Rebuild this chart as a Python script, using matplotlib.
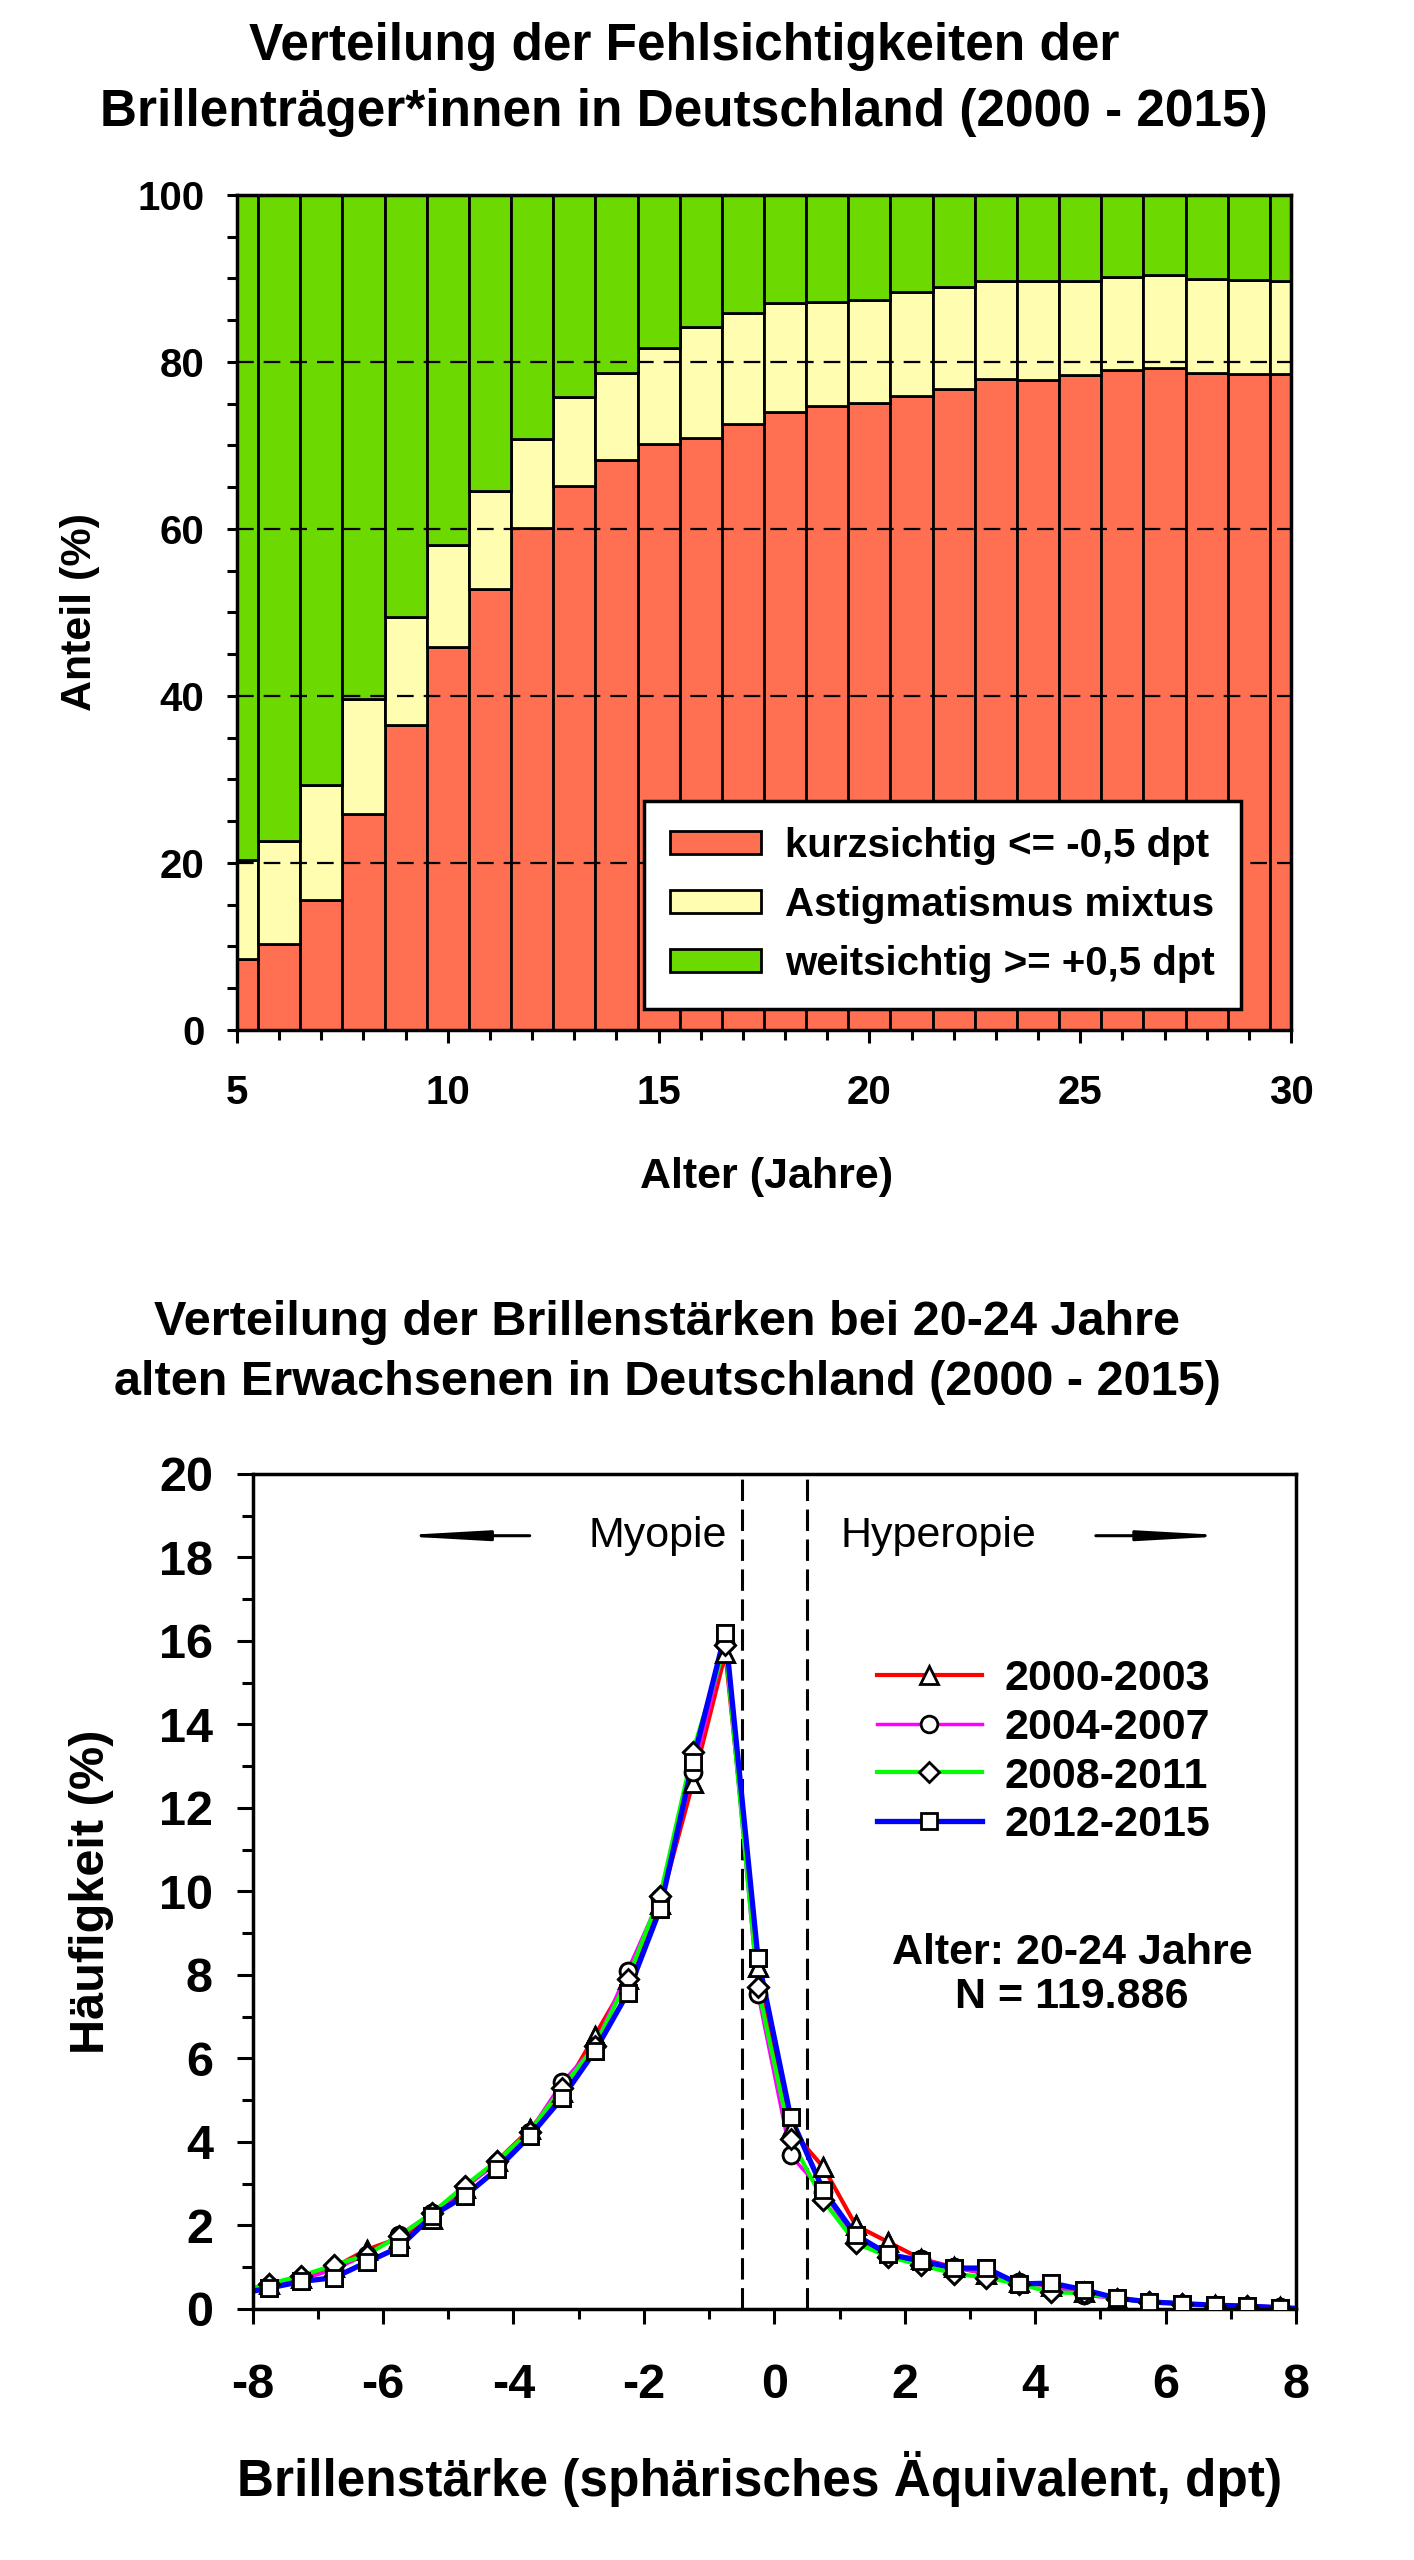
"""
Fehlsichtigkeiten der Brillenträger*innen in Deutschland (2000 - 2015)
Oben: gestapelte Anteile nach Alter, unten: Verteilung der Brillenstärken.
"""

import matplotlib
matplotlib.use("Agg")
import matplotlib.pyplot as plt
import numpy as np
from matplotlib.ticker import MultipleLocator

plt.rcParams.update({
    "font.family": ["Liberation Sans", "DejaVu Sans"],
    "font.weight": "bold",
    "axes.linewidth": 2.5,
    "axes.unicode_minus": False,
})

# ---------------------------------------------------------------------------
# Daten oben: Anteile (%) je Alter
# ---------------------------------------------------------------------------
alter = np.arange(5, 31)
kurzsichtig = [8.5, 10.3, 15.5, 25.8, 36.5, 45.8, 52.8, 60.1, 65.1, 68.2, 70.2,
               70.9, 72.5, 74.0, 74.7, 75.1, 75.9, 76.8, 78.0, 77.8, 78.4, 79.0,
               79.3, 78.7, 78.6, 78.5]
astig_mixtus = [11.8, 12.3, 13.8, 13.8, 12.9, 12.3, 11.7, 10.7, 10.7, 10.5, 11.5,
                13.3, 13.4, 13.0, 12.5, 12.3, 12.5, 12.2, 11.7, 11.9, 11.3, 11.1,
                11.1, 11.2, 11.2, 11.2]
weitsichtig = [79.7, 77.4, 70.7, 60.4, 50.6, 41.9, 35.5, 29.2, 24.2, 21.3, 18.3,
               15.8, 14.1, 13.0, 12.8, 12.6, 11.6, 11.0, 10.3, 10.3, 10.3, 9.9,
               9.6, 10.1, 10.2, 10.3]
kat_labels = ["kurzsichtig <= -0,5 dpt", "Astigmatismus mixtus",
              "weitsichtig >= +0,5 dpt"]
kat_farben = ["#FF6F52", "#FFFDAF", "#6CD900"]

# ---------------------------------------------------------------------------
# Daten unten: Häufigkeit (%) je Brillenstärke (Klassenmitten, dpt)
# ---------------------------------------------------------------------------
dpt = np.arange(-8.25, 8.26, 0.5)
h_2000 = [0.35, 0.6, 0.75, 1.0, 1.42, 1.7, 2.15, 2.9, 3.55, 4.3, 5.2, 6.55,
          7.9, 9.7, 12.6, 15.7, 8.2, 4.3, 3.4, 2.0, 1.6, 1.2, 1.0, 0.85, 0.65,
          0.55, 0.4, 0.25, 0.17, 0.13, 0.09, 0.07, 0.04, 0.0]
h_2004 = [0.38, 0.55, 0.7, 0.95, 1.3, 1.77, 2.3, 2.9, 3.5, 4.25, 5.43, 6.3,
          8.1, 9.85, 12.85, 15.95, 7.55, 3.68, 2.8, 1.65, 1.3, 1.2, 1.0, 0.85,
          0.65, 0.55, 0.33, 0.25, 0.17, 0.13, 0.09, 0.07, 0.04, 0.0]
h_2008 = [0.4, 0.6, 0.8, 1.05, 1.3, 1.75, 2.3, 2.95, 3.55, 4.25, 5.3, 6.3,
          7.9, 9.9, 13.35, 15.9, 7.7, 4.07, 2.6, 1.58, 1.25, 1.05, 0.85, 0.75,
          0.6, 0.4, 0.38, 0.25, 0.17, 0.13, 0.08, 0.06, 0.03, 0.0]
h_2012 = [0.35, 0.5, 0.66, 0.75, 1.12, 1.48, 2.23, 2.7, 3.35, 4.14, 5.06, 6.18,
          7.56, 9.58, 13.1, 16.2, 8.4, 4.6, 2.85, 1.77, 1.31, 1.15, 0.98, 0.98,
          0.6, 0.62, 0.46, 0.26, 0.17, 0.13, 0.09, 0.07, 0.03, 0.0]
zeitraeume = ["2000-2003", "2004-2007", "2008-2011", "2012-2015"]
linien_farben = ["#FF0000", "#FF00FF", "#00FF00", "#0000FF"]
linien_breiten = [3.0, 2.5, 3.0, 3.8]
marker = ["^", "o", "D", "s"]
marker_groesse = [13, 12, 10, 11]

fig = plt.figure(figsize=(14.14, 25.6), dpi=100)
fig.patch.set_facecolor("white")

# ---------------------------------------------------------------------------
# Oberes Diagramm
# ---------------------------------------------------------------------------
ax1 = fig.add_axes([0.1676, 0.5977, 0.7454, 0.3262])
unten = np.zeros(len(alter))
handles = []
for werte, farbe, lab in zip([kurzsichtig, astig_mixtus, weitsichtig],
                             kat_farben, kat_labels):
    b = ax1.bar(alter, werte, width=1.0, bottom=unten, color=farbe,
                edgecolor="black", linewidth=2.0, label=lab, zorder=1)
    handles.append(b)
    unten = unten + np.asarray(werte)

for y in (20, 40, 60, 80):
    ax1.axhline(y, color="black", linewidth=1.6, linestyle=(0, (7.5, 4.5)),
                zorder=2)

ax1.set_xlim(5, 30)
ax1.set_ylim(0, 100)
ax1.xaxis.set_major_locator(MultipleLocator(5))
ax1.xaxis.set_minor_locator(MultipleLocator(1))
ax1.yaxis.set_major_locator(MultipleLocator(20))
ax1.yaxis.set_minor_locator(MultipleLocator(5))
ax1.tick_params(axis="x", which="major", length=9.5, width=2.2, pad=22,
                labelsize=29)
ax1.tick_params(axis="x", which="minor", length=7, width=2.2)
ax1.tick_params(axis="y", which="both", length=7.5, width=2.2, pad=16,
                labelsize=29)
for lbl in ax1.get_xticklabels() + ax1.get_yticklabels():
    lbl.set_fontweight("bold")

ax1.set_ylabel("Anteil (%)", fontsize=31, fontweight="bold", va="center")
ax1.yaxis.set_label_coords(-0.149, 0.5)
ax1.set_xlabel("Alter (Jahre)", fontsize=31, fontweight="bold", va="center")
ax1.xaxis.set_label_coords(0.502, -0.176)

leg1 = ax1.legend(handles=handles, loc="lower left",
                  bbox_to_anchor=(0.386, 0.025), fontsize=29,
                  handlelength=2.26, handleheight=0.5, handletextpad=0.6,
                  labelspacing=0.52, borderpad=0.65, borderaxespad=0,
                  fancybox=False, framealpha=1, edgecolor="black")
leg1.get_frame().set_linewidth(2.5)
leg1.set_zorder(5)
for t in leg1.get_texts():
    t.set_fontweight("bold")

fig.text(684, 2560 - 60, "Verteilung der Fehlsichtigkeiten der",
         transform=None, fontsize=37, fontweight="bold", ha="center",
         va="baseline")
fig.text(684, 2560 - 126,
         "Brillenträger*innen in Deutschland (2000 - 2015)",
         transform=None, fontsize=37, fontweight="bold", ha="center",
         va="baseline")

# ---------------------------------------------------------------------------
# Unteres Diagramm
# ---------------------------------------------------------------------------
ax2 = fig.add_axes([0.1786, 0.09805, 0.738, 0.3262])
serien = [h_2000, h_2004, h_2008, h_2012]
for werte, farbe, lw, m, ms, lab in zip(serien, linien_farben, linien_breiten,
                                        marker, marker_groesse, zeitraeume):
    ax2.plot(dpt, werte, color=farbe, linewidth=lw, marker=m, markersize=ms,
             markerfacecolor="white", markeredgecolor="black",
             markeredgewidth=2.0, label=lab, zorder=2)
for werte, m, ms in zip(serien, marker, marker_groesse):
    ax2.plot(dpt, werte, linestyle="none", marker=m, markersize=ms,
             markerfacecolor="white", markeredgecolor="black",
             markeredgewidth=2.0, zorder=3)

for xv in (-0.5, 0.5):
    ax2.axvline(xv, color="black", linewidth=2.2, linestyle=(0, (7, 2.8)),
                zorder=1)

ax2.set_xlim(-8, 8)
ax2.set_ylim(0, 20)
ax2.xaxis.set_major_locator(MultipleLocator(2))
ax2.xaxis.set_minor_locator(MultipleLocator(1))
ax2.yaxis.set_major_locator(MultipleLocator(2))
ax2.yaxis.set_minor_locator(MultipleLocator(1))
ax2.tick_params(axis="x", which="major", length=11, width=2.2, pad=28,
                labelsize=35)
ax2.tick_params(axis="x", which="minor", length=7.5, width=2.2)
ax2.tick_params(axis="y", which="major", length=11.5, width=2.2, pad=17,
                labelsize=35)
ax2.tick_params(axis="y", which="minor", length=8, width=2.2)
for lbl in ax2.get_xticklabels() + ax2.get_yticklabels():
    lbl.set_fontweight("bold")

ax2.set_ylabel("Häufigkeit (%)", fontsize=35, fontweight="bold", va="center")
ax2.yaxis.set_label_coords(-0.154, 0.5)
ax2.set_xlabel("Brillenstärke (sphärisches Äquivalent, dpt)", fontsize=37,
               fontweight="bold", va="center")
ax2.xaxis.set_label_coords(0.486, -0.204)

ax2.text(-0.72, 18.52, "Myopie", ha="right", va="center", fontsize=31,
         fontweight="normal")
ax2.text(1.02, 18.52, "Hyperopie", ha="left", va="center", fontsize=31,
         fontweight="normal")
pfeil = dict(arrowstyle="-|>,head_length=3.2,head_width=0.18",
             mutation_scale=16, color="black", linewidth=2.2,
             shrinkA=0, shrinkB=0)
ax2.annotate("", xy=(-5.83, 18.52), xytext=(-3.75, 18.52), arrowprops=pfeil)
ax2.annotate("", xy=(7.02, 18.52), xytext=(4.93, 18.52), arrowprops=pfeil)

leg2 = ax2.legend(loc="upper left", bbox_to_anchor=(0.598, 0.778),
                  fontsize=31, numpoints=1, handlelength=2.44,
                  handletextpad=0.53, labelspacing=0.2, borderpad=0,
                  borderaxespad=0, frameon=False)
for t in leg2.get_texts():
    t.set_fontweight("bold")

ax2.text(0.7855, 0.4, "Alter: 20-24 Jahre\nN = 119.886", transform=ax2.transAxes,
         ha="center", va="center", fontsize=31, fontweight="bold",
         linespacing=1.15)

fig.text(667, 2560 - 1335, "Verteilung der Brillenstärken bei 20-24 Jahre",
         transform=None, fontsize=35, fontweight="bold", ha="center",
         va="baseline")
fig.text(667, 2560 - 1395,
         "alten Erwachsenen in Deutschland (2000 - 2015)",
         transform=None, fontsize=35, fontweight="bold", ha="center",
         va="baseline")

fig.savefig("out.png", dpi=100)
